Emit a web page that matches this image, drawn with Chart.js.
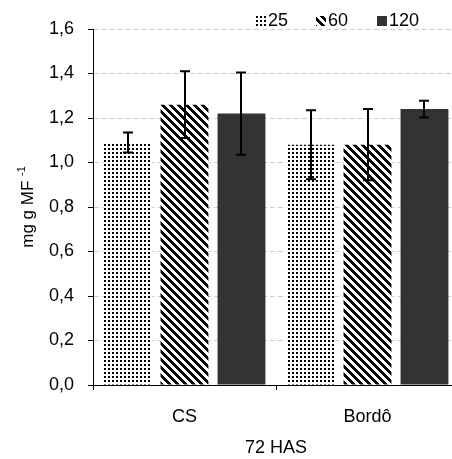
<!DOCTYPE html>
<html>
<head>
<meta charset="utf-8">
<script src="https://cdn.jsdelivr.net/npm/chart.js@4/dist/chart.umd.min.js"></script>
<style>
  html, body { margin: 0; padding: 0; overflow: hidden; background: #fff; }
  #wrap { width: 460px; height: 459px; }
</style>
</head>
<body>
<div id="wrap"><canvas id="chart" width="460" height="459"></canvas></div>
<script>
// data
const categories = ["CS", "Bordô"];
const seriesNames = ["25", "60", "120"];
const values25 = [1.09, 1.08];
const values60 = [1.26, 1.08];
const values120 = [1.22, 1.24];
const err25 = [0.045, 0.155];
const err60 = [0.15, 0.16];
const err120 = [0.185, 0.038];

const FONT = "'Liberation Sans', Arial, sans-serif";

// fill patterns
function dotPattern() {
  const c = document.createElement("canvas");
  c.width = 4; c.height = 4;
  const g = c.getContext("2d");
  g.fillStyle = "#fff"; g.fillRect(0, 0, 4, 4);
  g.fillStyle = "#000"; g.fillRect(0, 0, 2, 2);
  return g.createPattern(c, "repeat");
}
function hatchPattern() {
  const c = document.createElement("canvas");
  c.width = 8; c.height = 8;
  const g = c.getContext("2d");
  g.fillStyle = "#fff"; g.fillRect(0, 0, 8, 8);
  g.fillStyle = "#000";
  for (let y = 0; y < 8; y++) {
    for (let x = 0; x < 8; x++) {
      if (((x - y) % 8 + 8) % 8 < 4) g.fillRect(x, y, 1, 1);
    }
  }
  return g.createPattern(c, "repeat");
}

const fills = [dotPattern(), hatchPattern(), "#333333"];
const seriesValues = [values25, values60, values120];
const seriesErrors = [err25, err60, err120];

// error bars + legend + y title
const extras = {
  id: "extras",
  afterDatasetsDraw(chart) {
    const ctx = chart.ctx;
    const y = chart.scales.y;
    ctx.save();
    ctx.strokeStyle = "#000";
    ctx.lineWidth = 2;
    chart.data.datasets.forEach((ds, i) => {
      const meta = chart.getDatasetMeta(i);
      meta.data.forEach((bar, j) => {
        const v = ds.data[j], e = seriesErrors[i][j];
        const x = Math.round(bar.x);
        const top = y.getPixelForValue(v + e);
        const bot = y.getPixelForValue(v - e);
        ctx.beginPath();
        ctx.moveTo(x, top); ctx.lineTo(x, bot);
        ctx.moveTo(x - 5, top); ctx.lineTo(x + 5, top);
        ctx.moveTo(x - 5, bot); ctx.lineTo(x + 5, bot);
        ctx.stroke();
      });
    });
    ctx.restore();
  },
  afterDraw(chart) {
    const ctx = chart.ctx;
    ctx.save();
    // legend
    const legendX = [256, 316, 377];
    ctx.font = "18px " + FONT;
    ctx.textBaseline = "middle";
    ctx.textAlign = "left";
    seriesNames.forEach((name, i) => {
      ctx.fillStyle = fills[i];
      ctx.fillRect(legendX[i], 16, 10, 10);
      ctx.fillStyle = "#000";
      ctx.fillText(name, legendX[i] + 12, 21);
    });
    // y title with superscript
    const a = chart.chartArea;
    ctx.translate(22, (a.top + a.bottom) / 2);
    ctx.rotate(-Math.PI / 2);
    const main = "mg g MF ";
    ctx.font = "17px " + FONT;
    const w1 = ctx.measureText(main).width;
    ctx.font = "11px " + FONT;
    const w2 = ctx.measureText("-1").width;
    const start = -(w1 + w2) / 2;
    ctx.fillStyle = "#000";
    ctx.font = "17px " + FONT;
    ctx.fillText(main, start, 6);
    ctx.font = "11px " + FONT;
    ctx.fillText("-1", start + w1, 0);
    ctx.restore();
  }
};

new Chart(document.getElementById("chart"), {
  type: "bar",
  data: {
    labels: categories,
    datasets: seriesNames.map((name, i) => ({
      label: name,
      data: seriesValues[i],
      backgroundColor: fills[i],
      borderWidth: 0,
      categoryPercentage: 0.934,
      barPercentage: 0.84
    }))
  },
  options: {
    responsive: false,
    animation: false,
    layout: { padding: { top: 29, right: 1, left: 0, bottom: 0 } },
    plugins: { legend: { display: false }, tooltip: { enabled: false } },
    scales: {
      x: {
        afterFit: (s) => { s.height = 74; },
        grid: { drawOnChartArea: false, tickLength: 5, tickColor: "#000", offset: true },
        border: { color: "#000", width: 1 },
        ticks: { color: "#000", padding: 16, font: { family: FONT, size: 18 } },
        title: {
          display: true, text: "72 HAS", color: "#000",
          padding: { top: 0, bottom: 0 }, font: { family: FONT, size: 18 }
        }
      },
      y: {
        min: 0, max: 1.6,
        afterFit: (s) => { s.width = 93; },
        grid: { color: "#c6c6ff", tickColor: "#000", tickLength: 5, tickBorderDash: [] },
        border: { color: "#000", width: 1, dash: [5, 3] },
        ticks: {
          stepSize: 0.2, color: "#000", padding: 14,
          font: { family: FONT, size: 18 },
          callback: (v) => v.toFixed(1).replace(".", ",")
        }
      }
    }
  },
  plugins: [extras]
});
</script>
</body>
</html>
